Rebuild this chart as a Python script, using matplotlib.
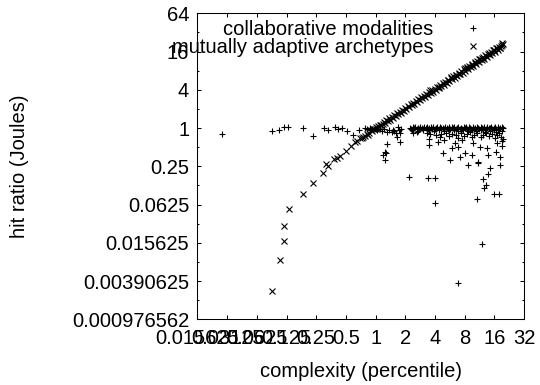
import matplotlib
matplotlib.use('Agg')
import matplotlib.pyplot as plt
from matplotlib.ticker import LogLocator, FuncFormatter, NullFormatter, NullLocator

# --- collaborative modalities (+) ---
# sparse points on the left, x < 1
collab_left_x = [0.028, 0.088, 0.105, 0.118, 0.129, 0.185, 0.233, 0.300, 0.331,
                 0.385, 0.416, 0.453, 0.509, 0.594, 0.684, 0.781, 0.877]
collab_left_y = [0.806, 0.908, 0.942, 1.027, 1.027, 0.991, 0.758, 0.991, 0.932,
                 1.039, 0.966, 1.013, 0.908, 0.777, 0.932, 0.991, 0.932]
# cluster around x = 1 .. 1.8
collab_mid_x = [0.82, 0.88, 0.93, 0.98, 1.04, 1.10, 1.15, 1.22, 1.30, 1.38, 1.45, 1.51,
                1.55, 1.62, 1.64, 1.70, 1.72, 1.77, 1.77, 1.80, 1.30, 1.25, 1.20, 1.25, 1.28]
collab_mid_y = [0.97, 1.01, 0.96, 0.99, 0.94, 0.97, 0.90, 0.95, 0.88, 0.92, 0.86, 0.93,
                0.89, 0.83, 0.73, 1.05, 0.93, 0.83, 0.61, 0.98, 0.555, 0.424, 0.377, 0.314, 0.40]
# dense band at ~1 from x = 2.2 to 19.5
collab_band_x = [2.23, 2.30, 2.37, 2.44, 2.52, 2.60, 2.67, 2.76, 2.84, 2.93, 3.02, 3.11,
                 3.21, 3.31, 3.41, 3.52, 3.63, 3.74, 3.86, 3.98, 4.10, 4.23, 4.36, 4.50,
                 4.64, 4.78, 4.93, 5.08, 5.24, 5.40, 5.57, 5.74, 5.92, 6.10, 6.29, 6.49,
                 6.69, 6.90, 7.11, 7.33, 7.56, 7.80, 8.04, 8.29, 8.55, 8.81, 9.09, 9.37,
                 9.66, 9.96, 10.3, 10.6, 10.9, 11.3, 11.6, 12.0, 12.4, 12.7, 13.1, 13.5,
                 14.0, 14.4, 14.8, 15.3, 15.8, 16.3, 16.8, 17.3, 17.8, 18.4, 19.0, 19.5]
collab_band_y = [1.00, 0.97, 1.03, 0.99, 1.04, 0.96, 1.01, 0.98, 1.05, 1.00, 0.97, 1.02,
                 0.99, 1.04, 0.96, 1.01, 1.03, 0.98, 1.05, 0.97, 1.00, 1.02, 0.96, 1.04,
                 0.99, 1.01, 0.97, 1.05, 1.00, 0.98, 1.03, 0.96, 1.02, 0.99, 1.04, 0.97,
                 1.01, 1.05, 0.98, 1.00, 0.96, 1.03, 0.99, 1.04, 0.97, 1.02, 1.00, 0.98,
                 1.05, 0.96, 1.01, 1.03, 0.99, 0.97, 1.04, 1.00, 0.98, 1.02, 0.96, 1.05,
                 1.01, 0.99, 1.03, 0.97, 1.00, 1.04, 0.98, 1.02, 0.96, 1.01, 1.03, 0.99]
collab_band2_x = [2.35, 2.70, 3.05, 3.45, 3.90, 4.40, 4.90, 5.50, 6.20, 6.90,
                  7.70, 8.60, 9.50, 10.5, 11.8, 13.0, 14.6, 16.0, 17.6, 19.2]
collab_band2_y = [0.93, 0.91, 0.94, 0.92, 0.90, 0.93, 0.91, 0.94, 0.92, 0.90,
                  0.93, 0.91, 0.94, 0.90, 0.92, 0.93, 0.91, 0.94, 0.92, 0.90]
# just under the band
collab_sub_x = [2.41, 3.30, 3.60, 4.10, 4.50, 4.60, 5.20, 5.60, 6.00, 6.60, 6.80, 7.30,
                7.90, 8.50, 9.10, 9.40, 10.0, 10.8, 11.7, 12.4, 12.8, 13.3, 14.2, 15.1,
                16.1, 16.5, 17.0, 18.0, 18.9, 19.3, 19.4, 2.60]
collab_sub_y = [0.827, 0.84, 0.80, 0.78, 0.72, 0.82, 0.85, 0.76, 0.81, 0.78, 0.69, 0.84,
                0.74, 0.80, 0.86, 0.71, 0.77, 0.83, 0.72, 0.79, 0.88, 0.85, 0.75, 0.81,
                0.70, 0.88, 0.78, 0.84, 0.73, 0.62, 0.68, 0.86]
# scattered low values
collab_low_x = [3.50, 3.50, 4.33, 4.94, 4.86, 5.68, 5.91, 6.39, 6.90, 7.47, 7.18, 8.07,
                8.71, 9.43, 9.79, 11.0, 11.45, 13.39, 13.9, 16.64, 16.9, 19.0, 18.27, 18.27,
                14.46, 2.20, 3.42, 4.00, 11.0, 13.9, 12.19, 13.17, 12.66, 16.0, 17.97, 4.00,
                10.75, 12.0, 6.90]
collab_low_y = [0.665, 0.541, 0.610, 0.649, 0.409, 0.314, 0.480, 0.575, 0.509, 0.649, 0.354, 0.400,
                0.262, 0.377, 0.575, 0.296, 0.509, 0.480, 0.377, 0.424, 0.575, 0.522, 0.354, 0.262,
                0.232, 0.171, 0.162, 0.165, 0.285, 0.187, 0.156, 0.127, 0.113, 0.0906, 0.0917, 0.0668,
                0.0756, 0.0148, 0.00368]

# --- mutually adaptive archetypes (x) ---
adapt_tail_x = [0.088, 0.107, 0.118, 0.119, 0.133, 0.185, 0.232, 0.293, 0.312, 0.331, 0.381, 0.403,
                0.436, 0.498, 0.56, 0.618, 0.65, 0.694, 0.72, 0.745, 0.78, 0.81, 0.838]
adapt_tail_y = [0.00272, 0.0083, 0.0167, 0.0288, 0.0538, 0.0917, 0.137, 0.194, 0.269, 0.255, 0.322, 0.341,
                0.367, 0.440, 0.53, 0.610, 0.62, 0.697, 0.70, 0.731, 0.75, 0.80, 0.777]
adapt_band_x = [0.86, 0.89, 0.92, 0.94, 0.97, 1.0, 1.02, 1.05, 1.08, 1.11, 1.14, 1.18,
                1.21, 1.25, 1.29, 1.33, 1.37, 1.41, 1.46, 1.5, 1.55, 1.6, 1.65, 1.7,
                1.76, 1.81, 1.87, 1.93, 1.99, 2.05, 2.12, 2.19, 2.26, 2.33, 2.4, 2.48,
                2.56, 2.64, 2.72, 2.81, 2.9, 2.99, 3.08, 3.18, 3.28, 3.39, 3.5, 3.61,
                3.72, 3.84, 3.96, 4.09, 4.22, 4.35, 4.49, 4.63, 4.78, 4.93, 5.09, 5.25,
                5.42, 5.59, 5.77, 5.95, 6.14, 6.34, 6.54, 6.75, 6.96, 7.18, 7.41, 7.65,
                7.89, 8.14, 8.4, 8.67, 8.95, 9.23, 9.53, 9.83, 10.1, 10.5, 10.8, 11.1,
                11.5, 11.9, 12.2, 12.6, 13.0, 13.4, 13.9, 14.3, 14.8, 15.2, 15.7, 16.2,
                16.7, 17.3, 17.8, 18.4, 19.0, 19.6,
                18.8, 17.0, 19.3, 16.0, 14.0, 12.0, 10.2, 8.5, 7.0, 5.8,
                18.1, 15.5, 13.2, 11.3, 9.6, 8.1, 6.6, 5.4, 4.4, 3.6]
adapt_band_y = [0.84, 0.93, 0.90, 0.97, 0.95, 1.03, 0.98, 1.09, 1.04, 1.13, 1.10, 1.15,
                1.26, 1.21, 1.33, 1.28, 1.42, 1.36, 1.51, 1.45, 1.60, 1.55, 1.71, 1.64,
                1.82, 1.75, 1.95, 1.86, 2.07, 1.99, 2.21, 2.12, 2.35, 2.27, 2.50, 2.41,
                2.67, 2.58, 2.85, 2.73, 3.04, 2.92, 3.24, 3.10, 3.45, 3.30, 3.68, 3.52,
                3.92, 3.75, 4.18, 3.99, 4.45, 4.26, 4.74, 4.53, 5.05, 4.82, 5.38, 5.13,
                5.73, 5.47, 6.11, 5.82, 6.50, 6.20, 6.93, 6.60, 7.38, 7.02, 7.86, 7.48,
                8.37, 7.97, 8.92, 8.49, 9.50, 9.04, 10.1, 9.63, 10.8, 10.3, 11.5, 10.9,
                12.3, 11.7, 13.1, 12.4, 14.0, 13.2, 14.9, 14.1, 15.9, 15.0, 16.9, 16.0,
                18.0, 17.1, 19.2, 18.2, 20.5, 20.7,
                19.6, 17.9, 21.6, 17.1, 15.3, 12.6, 10.5, 9.2, 7.2, 6.3,
                18.3, 16.8, 13.6, 12.1, 9.9, 8.7, 6.8, 5.8, 4.5, 3.9]

collab_x = (collab_left_x + collab_mid_x + collab_band_x + collab_band2_x
            + collab_sub_x + collab_low_x)
collab_y = (collab_left_y + collab_mid_y + collab_band_y + collab_band2_y
            + collab_sub_y + collab_low_y)
adapt_x = adapt_tail_x + adapt_band_x
adapt_y = adapt_tail_y + adapt_band_y

plt.rcParams['font.family'] = ['Liberation Sans', 'DejaVu Sans']
plt.rcParams['font.size'] = 14.5

fig = plt.figure(figsize=(5.4, 3.85), dpi=100)
ax = fig.add_axes([0.3657, 0.1706, 0.6047, 0.7949])

ax.plot(collab_x, collab_y, linestyle='none', marker='+', ms=4.5, mew=0.8,
        color='black', label='collaborative modalities')
ax.plot(adapt_x, adapt_y, linestyle='none', marker='x', ms=3.8, mew=0.8,
        color='black', label='mutually adaptive archetypes')

ax.set_xscale('log', base=2)
ax.set_yscale('log', base=2)
ax.set_xlim(2**-6, 2**5)
ax.set_ylim(2**-10, 2**6)

fmt = FuncFormatter(lambda v, pos: '%g' % v)
ax.xaxis.set_major_locator(LogLocator(base=2, numticks=30))
ax.xaxis.set_minor_locator(NullLocator())
ax.xaxis.set_major_formatter(fmt)
ax.yaxis.set_major_locator(LogLocator(base=4, numticks=30))
ax.yaxis.set_minor_locator(LogLocator(base=4, subs=(2.0,), numticks=30))
ax.yaxis.set_major_formatter(fmt)
ax.yaxis.set_minor_formatter(NullFormatter())

ax.tick_params(which='both', direction='in', top=True, right=True, width=0.75)
ax.tick_params(which='major', length=3)
ax.tick_params(which='minor', length=1.5)
ax.tick_params(axis='y', pad=6)
ax.tick_params(axis='x', pad=7)
for s in ax.spines.values():
    s.set_linewidth(0.75)

ax.set_xlabel('complexity (percentile)')
ax.set_ylabel('hit ratio (Joules)')
ax.xaxis.set_label_coords(0.5, -0.14)
ax.yaxis.set_label_coords(-0.516, 0.5)

# gnuplot style key: right aligned text, marker on the right
ax.legend(loc='upper right', bbox_to_anchor=(0.905, 0.979), frameon=False,
          markerfirst=False, borderpad=0, borderaxespad=0, handletextpad=0.96,
          handlelength=2.0, labelspacing=-0.02, numpoints=1)

fig.savefig('out.png', dpi=100)
